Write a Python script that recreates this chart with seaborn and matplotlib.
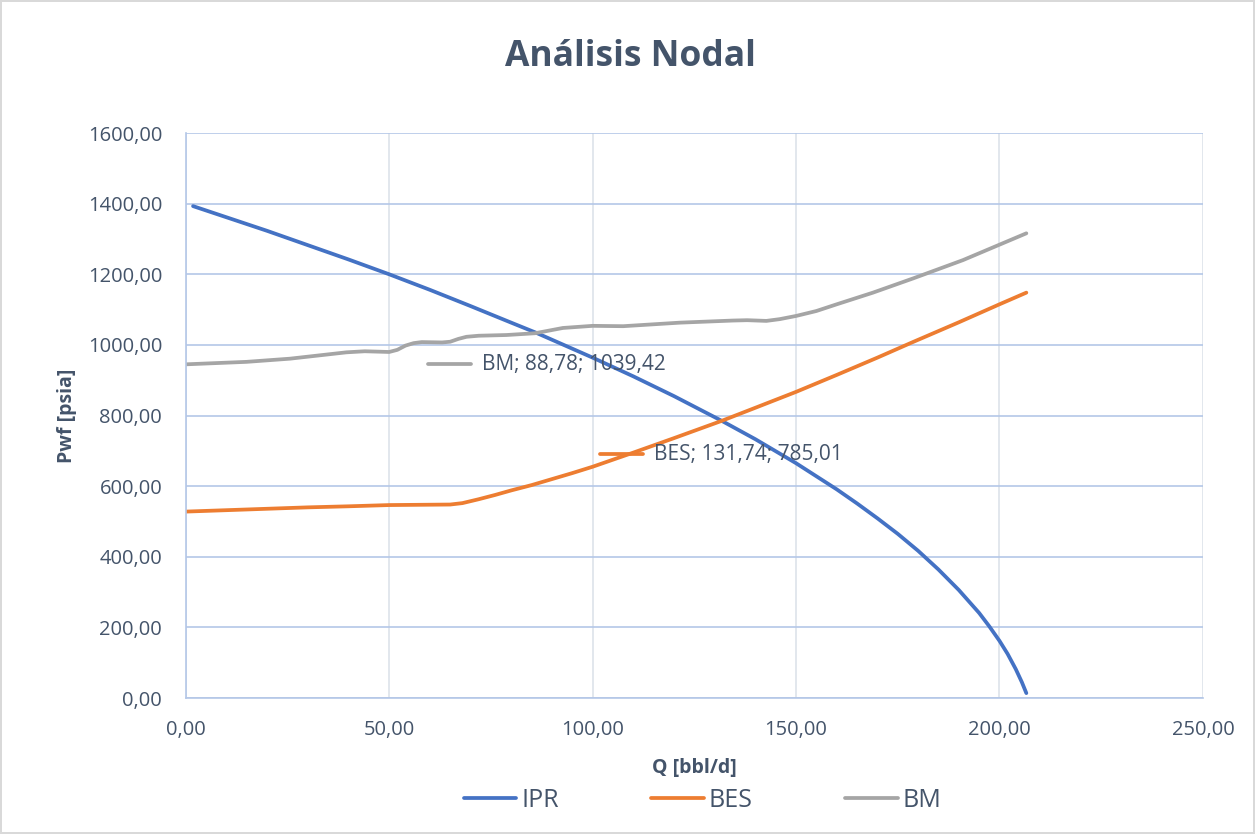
import matplotlib
matplotlib.use("Agg")
import matplotlib.pyplot as plt
import seaborn as sns
from matplotlib.ticker import FuncFormatter, MultipleLocator
from matplotlib.offsetbox import AnnotationBbox, DrawingArea, TextArea, HPacker
from matplotlib.lines import Line2D

# IPR curve (Q, Pwf)
ipr_q = [1.8, 20, 40, 50, 60, 70, 80, 86, 100, 110, 120, 131.74, 140, 150, 160,
         165, 170, 175, 180, 185, 190, 195, 197.5, 200, 202, 204, 205.5, 206.6]
ipr_p = [1393, 1323, 1242, 1200, 1156, 1110, 1063, 1035, 964, 911, 855, 785.01, 733,
         665, 591, 551, 509, 465, 417, 364, 306, 241, 203, 162, 125, 82, 45, 14]

# BES curve
bes_q = [0, 10, 20, 30, 40, 50, 60, 65, 68, 72, 76, 80, 85, 90, 95, 100, 110, 120,
         131.74, 140, 150, 160, 170, 178.7, 190, 200, 206.6]
bes_p = [528, 532, 536, 540, 543, 546.5, 547.5, 548, 552, 563, 575, 588, 603, 620,
         637, 655, 695, 736, 785.01, 822, 867, 915, 964, 1008, 1064, 1115, 1148]

# BM curve
bm_q = [0, 14.9, 25.6, 39.5, 44, 50, 52, 54, 56, 58, 63, 65, 67, 69, 72, 78.8,
        85.8, 88.78, 92.7, 100, 107.5, 121.4, 134.5, 138, 142.7, 146, 150, 155,
        160, 168.9, 178.7, 191, 206.6]
bm_p = [945, 952, 961, 979, 982, 980, 986, 998, 1005, 1008, 1007, 1009, 1017, 1023,
        1026, 1028, 1033, 1039.42, 1048, 1054, 1053, 1063, 1069, 1070, 1068, 1073,
        1082, 1096, 1115, 1148, 1188, 1240, 1316]

# operating points (labels)
pts_name = ["BM", "BES"]
pts_q = [88.78, 131.74]
pts_p = [1039.42, 785.01]

colors = {"IPR": "#4472c4", "BES": "#ed7d31", "BM": "#a5a5a5"}
txt = "#44546a"

sns.set_theme(style="white")
plt.rcParams["font.family"] = ["Open Sans", "DejaVu Sans"]

fig = plt.figure(figsize=(12.55, 8.34), dpi=100, linewidth=1.5, edgecolor="#d9d9d9")
ax = fig.add_axes([0.148, 0.163, 0.8105, 0.6775])

sns.lineplot(x=ipr_q, y=ipr_p, ax=ax, color=colors["IPR"], lw=2.7, label="IPR", sort=False)
sns.lineplot(x=bes_q, y=bes_p, ax=ax, color=colors["BES"], lw=2.7, label="BES", sort=False)
sns.lineplot(x=bm_q, y=bm_p, ax=ax, color=colors["BM"], lw=2.7, label="BM", sort=False)

ax.set_xlim(0, 250)
ax.set_ylim(0, 1600)
ax.xaxis.set_major_locator(MultipleLocator(50))
ax.yaxis.set_major_locator(MultipleLocator(200))
fmt = FuncFormatter(lambda v, p: f"{v:.2f}".replace(".", ","))
ax.xaxis.set_major_formatter(fmt)
ax.yaxis.set_major_formatter(fmt)

ax.grid(axis="y", color="#b4c7e7", lw=1.2)
ax.grid(axis="x", color="#dde3ea", lw=1.2)
ax.set_axisbelow(True)
for s in ["top", "right"]:
    ax.spines[s].set_visible(False)
for s in ["left", "bottom"]:
    ax.spines[s].set_color("#b4c7e7")
    ax.spines[s].set_linewidth(1.2)

ax.tick_params(axis="both", length=0, labelsize=14.5, colors=txt)
ax.tick_params(axis="y", pad=17)
ax.tick_params(axis="x", pad=16)

ax.set_xlabel("Q [bbl/d]", fontsize=14, fontweight="bold", color=txt, labelpad=13)
ax.set_ylabel("Pwf [psia]", fontsize=14, fontweight="bold", color=txt, labelpad=8)
fig.suptitle("Análisis Nodal", x=0.5024, y=0.953, fontsize=25.5, fontweight="bold", color=txt)

# data labels with legend key
for name, q, p in zip(pts_name, pts_q, pts_p):
    da = DrawingArea(31, 10, 0, 0)
    da.add_artist(Line2D([0, 31], [5, 5], color=colors[name], lw=2.7))
    ta = TextArea(f"{name}; {q:.2f}; {p:.2f}".replace(".", ","),
                  textprops=dict(color=txt, fontsize=15))
    box = HPacker(children=[da, ta], align="center", pad=0, sep=8)
    ab = AnnotationBbox(box, (q, p), xybox=(0, -24), xycoords="data",
                        boxcoords="offset points", frameon=False)
    ax.add_artist(ab)

leg = ax.legend(loc="center", bbox_to_anchor=(0.560, 0.040), bbox_transform=fig.transFigure,
                ncol=3, frameon=False, fontsize=18, handlelength=2.1, handletextpad=0.2,
                columnspacing=3.7)
for t in leg.get_texts():
    t.set_color(txt)

fig.savefig("out.png", dpi=100)
